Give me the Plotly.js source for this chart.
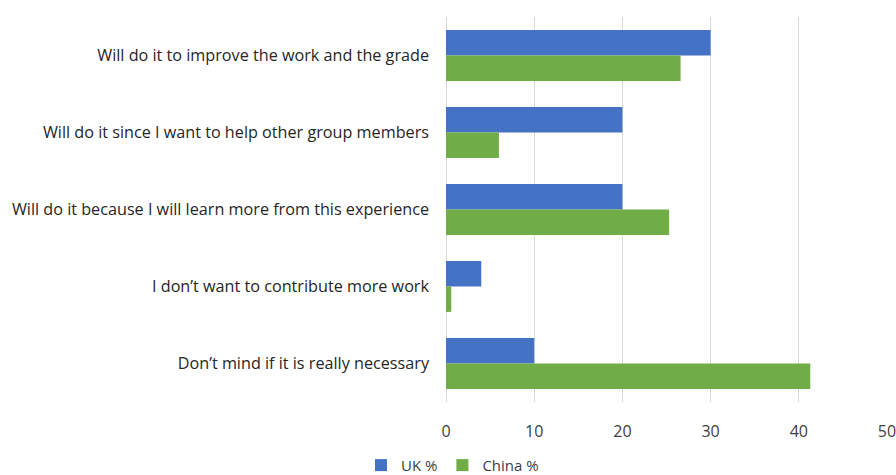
<!DOCTYPE html>
<html>
<head>
<meta charset="utf-8">
<script src="https://cdn.plot.ly/plotly-3.0.1.min.js"></script>
<style>html,body{margin:0;padding:0;background:#fff;}#chart{width:896px;height:475px;}</style>
</head>
<body>
<div id="chart"></div>
<script>
const categories = [
  "Will do it to improve the work and the grade",
  "Will do it since I want to help other group members",
  "Will do it because I will learn more from this experience",
  "I don\u2019t want to contribute more work",
  "Don\u2019t mind if it is really necessary"
];
const ukValues = [30, 20, 20, 4, 10];
const chinaValues = [26.6, 6, 25.3, 0.6, 41.3];
const xTicks = [0, 10, 20, 30, 40, 50];

const traces = [
  {type: 'bar', orientation: 'h', name: 'UK %', y: categories, x: ukValues,
   marker: {color: '#4472C4'}},
  {type: 'bar', orientation: 'h', name: 'China %', y: categories, x: chinaValues,
   marker: {color: '#70AD47'}}
];

const layout = {
  width: 896, height: 475,
  margin: {l: 446, r: 9, t: 17, b: 73},
  barmode: 'group', bargap: 0.34, bargroupgap: 0,
  paper_bgcolor: '#fff', plot_bgcolor: '#fff',
  font: {family: '"Open Sans", sans-serif', size: 15, color: '#404040'},
  xaxis: {range: [0, 50], tickvals: xTicks, ticktext: xTicks.map(String),
          showgrid: true, gridcolor: '#d9d9d9', gridwidth: 1, zeroline: true,
          zerolinecolor: '#d9d9d9', zerolinewidth: 1, showline: false, ticks: '',
          ticklen: 0, ticklabelstandoff: 18, ticklabeloverflow: 'allow',
          tickfont: {size: 16, color: '#404040'}, fixedrange: true},
  yaxis: {autorange: 'reversed', type: 'category', showgrid: false, zeroline: false,
          showline: false, ticks: '', ticklabelstandoff: 16,
          tickfont: {size: 16.2, color: '#262626'}, fixedrange: true},
  showlegend: true,
  legend: {orientation: 'h', xref: 'container', x: 0.505, xanchor: 'center',
           yref: 'container', y: 0.055, yanchor: 'top', itemwidth: 30,
           font: {size: 15, color: '#404040'}, traceorder: 'normal'}
};

Plotly.newPlot('chart', traces, layout, {displayModeBar: false, staticPlot: true});
</script>
</body>
</html>
